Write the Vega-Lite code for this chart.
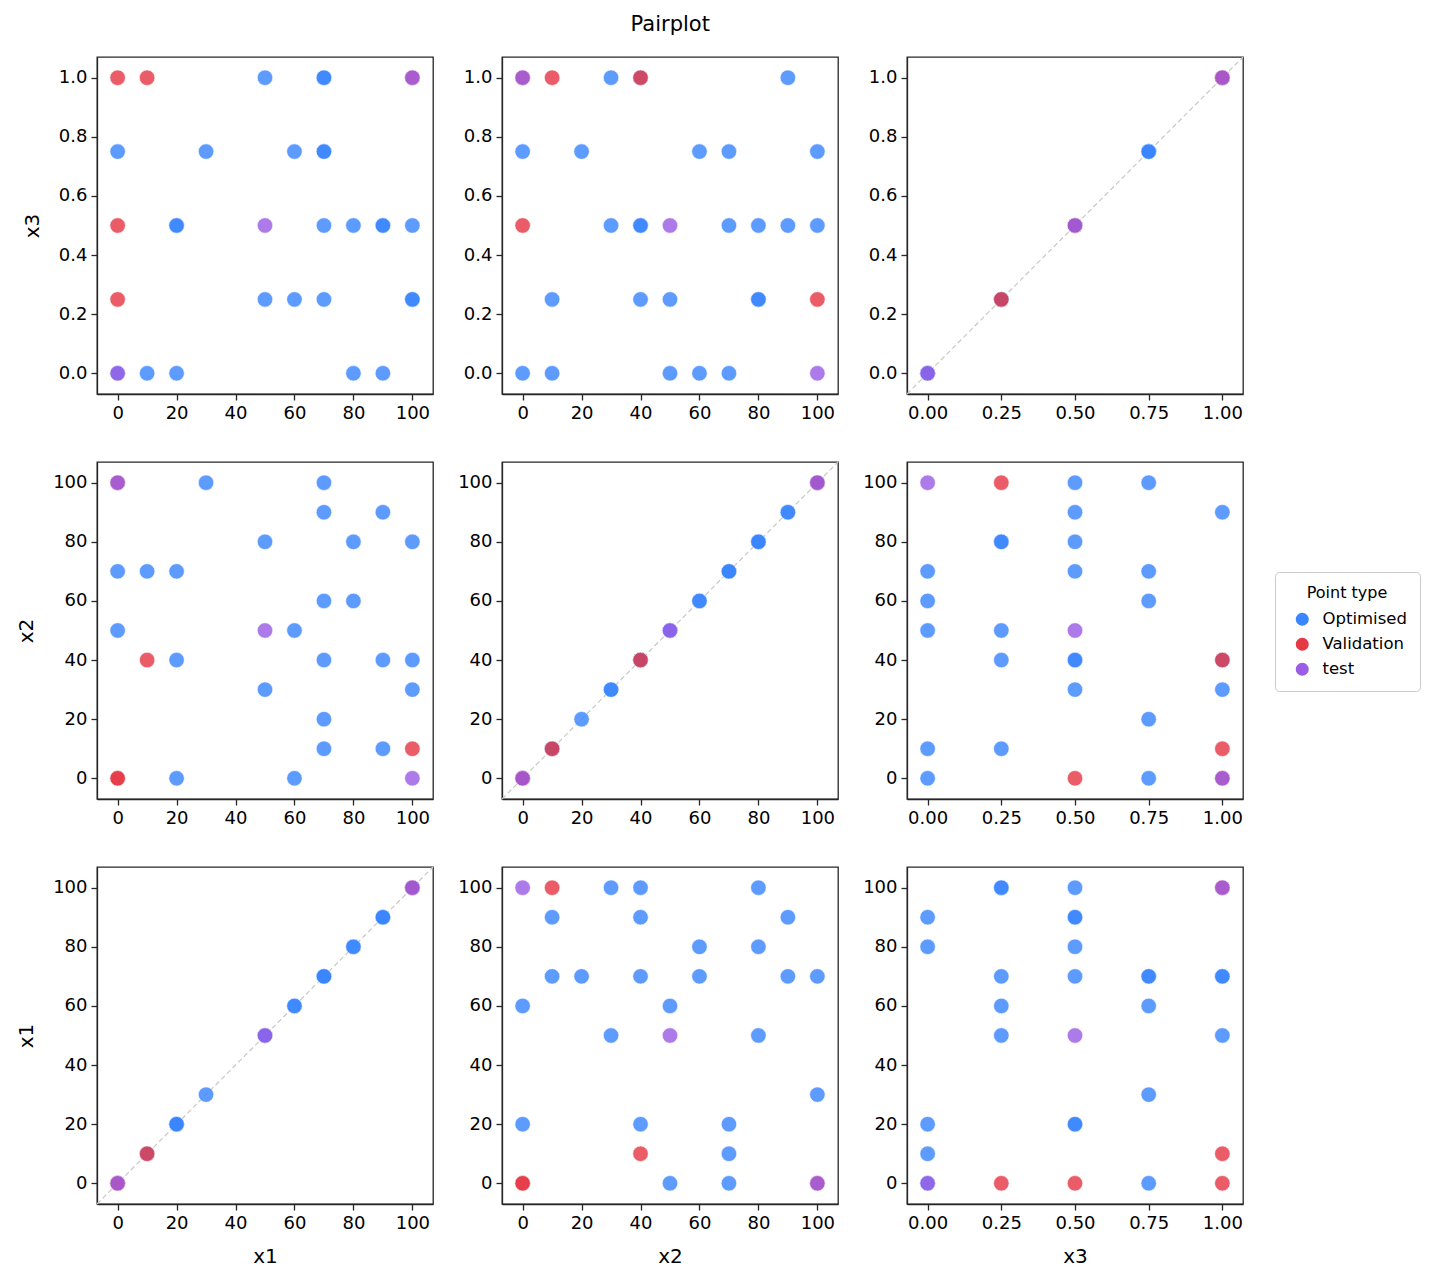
{
  "$schema": "https://vega.github.io/schema/vega-lite/v6.json",
  "padding": {"left": 15, "top": 13, "right": 10, "bottom": 10},
  "background": "white",
  "title": {"text": "Pairplot", "font": "DejaVu Sans", "fontSize": 21, "fontWeight": "normal", "color": "black", "anchor": "middle", "offset": 21, "dx": -48},
  "data": {"values": [
    {"x1": 30, "x2": 100, "x3": 0.75, "type": "Optimised"},
    {"x1": 70, "x2": 100, "x3": 0.5, "type": "Optimised"},
    {"x1": 70, "x2": 90, "x3": 1.0, "type": "Optimised"},
    {"x1": 90, "x2": 90, "x3": 0.5, "type": "Optimised"},
    {"x1": 50, "x2": 80, "x3": 0.25, "type": "Optimised"},
    {"x1": 80, "x2": 80, "x3": 0.5, "type": "Optimised"},
    {"x1": 100, "x2": 80, "x3": 0.25, "type": "Optimised"},
    {"x1": 0, "x2": 70, "x3": 0.75, "type": "Optimised"},
    {"x1": 10, "x2": 70, "x3": 0.0, "type": "Optimised"},
    {"x1": 20, "x2": 70, "x3": 0.5, "type": "Optimised"},
    {"x1": 70, "x2": 60, "x3": 0.75, "type": "Optimised"},
    {"x1": 80, "x2": 60, "x3": 0.0, "type": "Optimised"},
    {"x1": 0, "x2": 50, "x3": 0.0, "type": "Optimised"},
    {"x1": 60, "x2": 50, "x3": 0.25, "type": "Optimised"},
    {"x1": 20, "x2": 40, "x3": 0.5, "type": "Optimised"},
    {"x1": 70, "x2": 40, "x3": 1.0, "type": "Optimised"},
    {"x1": 90, "x2": 40, "x3": 0.5, "type": "Optimised"},
    {"x1": 100, "x2": 40, "x3": 0.25, "type": "Optimised"},
    {"x1": 50, "x2": 30, "x3": 1.0, "type": "Optimised"},
    {"x1": 100, "x2": 30, "x3": 0.5, "type": "Optimised"},
    {"x1": 70, "x2": 20, "x3": 0.75, "type": "Optimised"},
    {"x1": 70, "x2": 10, "x3": 0.25, "type": "Optimised"},
    {"x1": 90, "x2": 10, "x3": 0.0, "type": "Optimised"},
    {"x1": 20, "x2": 0, "x3": 0.0, "type": "Optimised"},
    {"x1": 60, "x2": 0, "x3": 0.75, "type": "Optimised"},
    {"x1": 0, "x2": 100, "x3": 0.25, "type": "Validation"},
    {"x1": 0, "x2": 0, "x3": 0.5, "type": "Validation"},
    {"x1": 10, "x2": 40, "x3": 1.0, "type": "Validation"},
    {"x1": 100, "x2": 10, "x3": 1.0, "type": "Validation"},
    {"x1": 0, "x2": 0, "x3": 1.0, "type": "Validation"},
    {"x1": 0, "x2": 100, "x3": 0.0, "type": "test"},
    {"x1": 50, "x2": 50, "x3": 0.5, "type": "test"},
    {"x1": 100, "x2": 0, "x3": 1.0, "type": "test"}
  ]},
  "columns": 3,
  "bounds": "flush",
  "spacing": {"row": 68, "column": 69},
  "resolve": {"scale": {"x": "independent", "y": "independent", "color": "shared"}, "legend": {"color": "shared"}},
  "concat": [
    {
      "width": 336, "height": 337,
      "mark": {"type": "circle", "size": 240, "opacity": 0.82, "stroke": "white", "strokeWidth": 0.6},
      "encoding": {
        "x": {"field": "x1", "type": "quantitative", "scale": {"domain": [-7, 107], "nice": false, "zero": false}, "axis": {"values": [0, 20, 40, 60, 80, 100], "title": null}},
        "y": {"field": "x3", "type": "quantitative", "scale": {"domain": [-0.07, 1.07], "nice": false, "zero": false}, "axis": {"values": [0, 0.2, 0.4, 0.6, 0.8, 1.0], "format": ".1f", "title": "x3"}},
        "color": {"field": "type", "type": "nominal", "title": "Point type", "scale": {"domain": ["Optimised", "Validation", "test"], "range": ["#3a86ff", "#e63946", "#9b5de5"]}, "legend": {"orient": "none", "legendX": 1178, "legendY": 515}}
      }
    },
    {
      "width": 336, "height": 337,
      "mark": {"type": "circle", "size": 240, "opacity": 0.82, "stroke": "white", "strokeWidth": 0.6},
      "encoding": {
        "x": {"field": "x2", "type": "quantitative", "scale": {"domain": [-7, 107], "nice": false, "zero": false}, "axis": {"values": [0, 20, 40, 60, 80, 100], "title": null}},
        "y": {"field": "x3", "type": "quantitative", "scale": {"domain": [-0.07, 1.07], "nice": false, "zero": false}, "axis": {"values": [0, 0.2, 0.4, 0.6, 0.8, 1.0], "format": ".1f", "title": null}},
        "color": {"field": "type", "type": "nominal", "title": "Point type", "scale": {"domain": ["Optimised", "Validation", "test"], "range": ["#3a86ff", "#e63946", "#9b5de5"]}, "legend": {"orient": "none", "legendX": 1178, "legendY": 515}}
      }
    },
    {
      "width": 336, "height": 337,
      "layer": [
        {
          "data": {"values": [{}]},
          "mark": {"type": "rule", "color": "#c8c8c8", "strokeWidth": 1.2, "strokeDash": [5, 3]},
          "encoding": {
            "x": {"datum": -0.07, "type": "quantitative"},
            "y": {"datum": -0.07, "type": "quantitative"},
            "x2": {"datum": 1.07},
            "y2": {"datum": 1.07}
          }
        },
        {
          "mark": {"type": "circle", "size": 240, "opacity": 0.82, "stroke": "white", "strokeWidth": 0.6},
          "encoding": {
            "x": {"field": "x3", "type": "quantitative", "scale": {"domain": [-0.07, 1.07], "nice": false, "zero": false}, "axis": {"values": [0, 0.25, 0.5, 0.75, 1.0], "format": ".2f", "title": null}},
            "y": {"field": "x3", "type": "quantitative", "scale": {"domain": [-0.07, 1.07], "nice": false, "zero": false}, "axis": {"values": [0, 0.2, 0.4, 0.6, 0.8, 1.0], "format": ".1f", "title": null}},
            "color": {"field": "type", "type": "nominal", "title": "Point type", "scale": {"domain": ["Optimised", "Validation", "test"], "range": ["#3a86ff", "#e63946", "#9b5de5"]}, "legend": {"orient": "none", "legendX": 1178, "legendY": 515}}
          }
        }
      ]
    },
    {
      "width": 336, "height": 337,
      "mark": {"type": "circle", "size": 240, "opacity": 0.82, "stroke": "white", "strokeWidth": 0.6},
      "encoding": {
        "x": {"field": "x1", "type": "quantitative", "scale": {"domain": [-7, 107], "nice": false, "zero": false}, "axis": {"values": [0, 20, 40, 60, 80, 100], "title": null}},
        "y": {"field": "x2", "type": "quantitative", "scale": {"domain": [-7, 107], "nice": false, "zero": false}, "axis": {"values": [0, 20, 40, 60, 80, 100], "title": "x2"}},
        "color": {"field": "type", "type": "nominal", "title": "Point type", "scale": {"domain": ["Optimised", "Validation", "test"], "range": ["#3a86ff", "#e63946", "#9b5de5"]}, "legend": {"orient": "none", "legendX": 1178, "legendY": 515}}
      }
    },
    {
      "width": 336, "height": 337,
      "layer": [
        {
          "data": {"values": [{}]},
          "mark": {"type": "rule", "color": "#c8c8c8", "strokeWidth": 1.2, "strokeDash": [5, 3]},
          "encoding": {
            "x": {"datum": -7, "type": "quantitative"},
            "y": {"datum": -7, "type": "quantitative"},
            "x2": {"datum": 107},
            "y2": {"datum": 107}
          }
        },
        {
          "mark": {"type": "circle", "size": 240, "opacity": 0.82, "stroke": "white", "strokeWidth": 0.6},
          "encoding": {
            "x": {"field": "x2", "type": "quantitative", "scale": {"domain": [-7, 107], "nice": false, "zero": false}, "axis": {"values": [0, 20, 40, 60, 80, 100], "title": null}},
            "y": {"field": "x2", "type": "quantitative", "scale": {"domain": [-7, 107], "nice": false, "zero": false}, "axis": {"values": [0, 20, 40, 60, 80, 100], "title": null}},
            "color": {"field": "type", "type": "nominal", "title": "Point type", "scale": {"domain": ["Optimised", "Validation", "test"], "range": ["#3a86ff", "#e63946", "#9b5de5"]}, "legend": {"orient": "none", "legendX": 1178, "legendY": 515}}
          }
        }
      ]
    },
    {
      "width": 336, "height": 337,
      "mark": {"type": "circle", "size": 240, "opacity": 0.82, "stroke": "white", "strokeWidth": 0.6},
      "encoding": {
        "x": {"field": "x3", "type": "quantitative", "scale": {"domain": [-0.07, 1.07], "nice": false, "zero": false}, "axis": {"values": [0, 0.25, 0.5, 0.75, 1.0], "format": ".2f", "title": null}},
        "y": {"field": "x2", "type": "quantitative", "scale": {"domain": [-7, 107], "nice": false, "zero": false}, "axis": {"values": [0, 20, 40, 60, 80, 100], "title": null}},
        "color": {"field": "type", "type": "nominal", "title": "Point type", "scale": {"domain": ["Optimised", "Validation", "test"], "range": ["#3a86ff", "#e63946", "#9b5de5"]}, "legend": {"orient": "none", "legendX": 1178, "legendY": 515}}
      }
    },
    {
      "width": 336, "height": 337,
      "layer": [
        {
          "data": {"values": [{}]},
          "mark": {"type": "rule", "color": "#c8c8c8", "strokeWidth": 1.2, "strokeDash": [5, 3]},
          "encoding": {
            "x": {"datum": -7, "type": "quantitative"},
            "y": {"datum": -7, "type": "quantitative"},
            "x2": {"datum": 107},
            "y2": {"datum": 107}
          }
        },
        {
          "mark": {"type": "circle", "size": 240, "opacity": 0.82, "stroke": "white", "strokeWidth": 0.6},
          "encoding": {
            "x": {"field": "x1", "type": "quantitative", "scale": {"domain": [-7, 107], "nice": false, "zero": false}, "axis": {"values": [0, 20, 40, 60, 80, 100], "title": "x1"}},
            "y": {"field": "x1", "type": "quantitative", "scale": {"domain": [-7, 107], "nice": false, "zero": false}, "axis": {"values": [0, 20, 40, 60, 80, 100], "title": "x1"}},
            "color": {"field": "type", "type": "nominal", "title": "Point type", "scale": {"domain": ["Optimised", "Validation", "test"], "range": ["#3a86ff", "#e63946", "#9b5de5"]}, "legend": {"orient": "none", "legendX": 1178, "legendY": 515}}
          }
        }
      ]
    },
    {
      "width": 336, "height": 337,
      "mark": {"type": "circle", "size": 240, "opacity": 0.82, "stroke": "white", "strokeWidth": 0.6},
      "encoding": {
        "x": {"field": "x2", "type": "quantitative", "scale": {"domain": [-7, 107], "nice": false, "zero": false}, "axis": {"values": [0, 20, 40, 60, 80, 100], "title": "x2"}},
        "y": {"field": "x1", "type": "quantitative", "scale": {"domain": [-7, 107], "nice": false, "zero": false}, "axis": {"values": [0, 20, 40, 60, 80, 100], "title": null}},
        "color": {"field": "type", "type": "nominal", "title": "Point type", "scale": {"domain": ["Optimised", "Validation", "test"], "range": ["#3a86ff", "#e63946", "#9b5de5"]}, "legend": {"orient": "none", "legendX": 1178, "legendY": 515}}
      }
    },
    {
      "width": 336, "height": 337,
      "mark": {"type": "circle", "size": 240, "opacity": 0.82, "stroke": "white", "strokeWidth": 0.6},
      "encoding": {
        "x": {"field": "x3", "type": "quantitative", "scale": {"domain": [-0.07, 1.07], "nice": false, "zero": false}, "axis": {"values": [0, 0.25, 0.5, 0.75, 1.0], "format": ".2f", "title": "x3"}},
        "y": {"field": "x1", "type": "quantitative", "scale": {"domain": [-7, 107], "nice": false, "zero": false}, "axis": {"values": [0, 20, 40, 60, 80, 100], "title": null}},
        "color": {"field": "type", "type": "nominal", "title": "Point type", "scale": {"domain": ["Optimised", "Validation", "test"], "range": ["#3a86ff", "#e63946", "#9b5de5"]}, "legend": {"orient": "none", "legendX": 1178, "legendY": 515}}
      }
    }
  ],
  "config": {
    "font": "DejaVu Sans",
    "view": {"stroke": "#262626", "strokeWidth": 1.3},
    "axis": {
      "grid": false,
      "domainColor": "#262626", "domainWidth": 1.3,
      "tickColor": "#262626", "tickWidth": 1.3, "tickSize": 6,
      "labelFont": "DejaVu Sans", "labelFontSize": 18, "labelColor": "black", "labelPadding": 4,
      "titleFont": "DejaVu Sans", "titleFontSize": 20, "titleFontWeight": "normal", "titleColor": "black"
    },
    "axisX": {"titlePadding": 14},
    "axisY": {"titlePadding": 16},
    "legend": {
      "titleFont": "DejaVu Sans", "titleFontSize": 16, "titleFontWeight": "normal", "titleColor": "black", "titleAnchor": "middle",
      "labelFont": "DejaVu Sans", "labelFontSize": 16.5, "labelColor": "black", "labelOffset": 12,
      "symbolType": "circle", "symbolSize": 170, "symbolOpacity": 1, "symbolStrokeWidth": 0, "symbolOffset": 6,
      "strokeColor": "#cccccc", "fillColor": "white", "cornerRadius": 4, "padding": 13, "rowPadding": 8, "titlePadding": 10
    }
  }
}
